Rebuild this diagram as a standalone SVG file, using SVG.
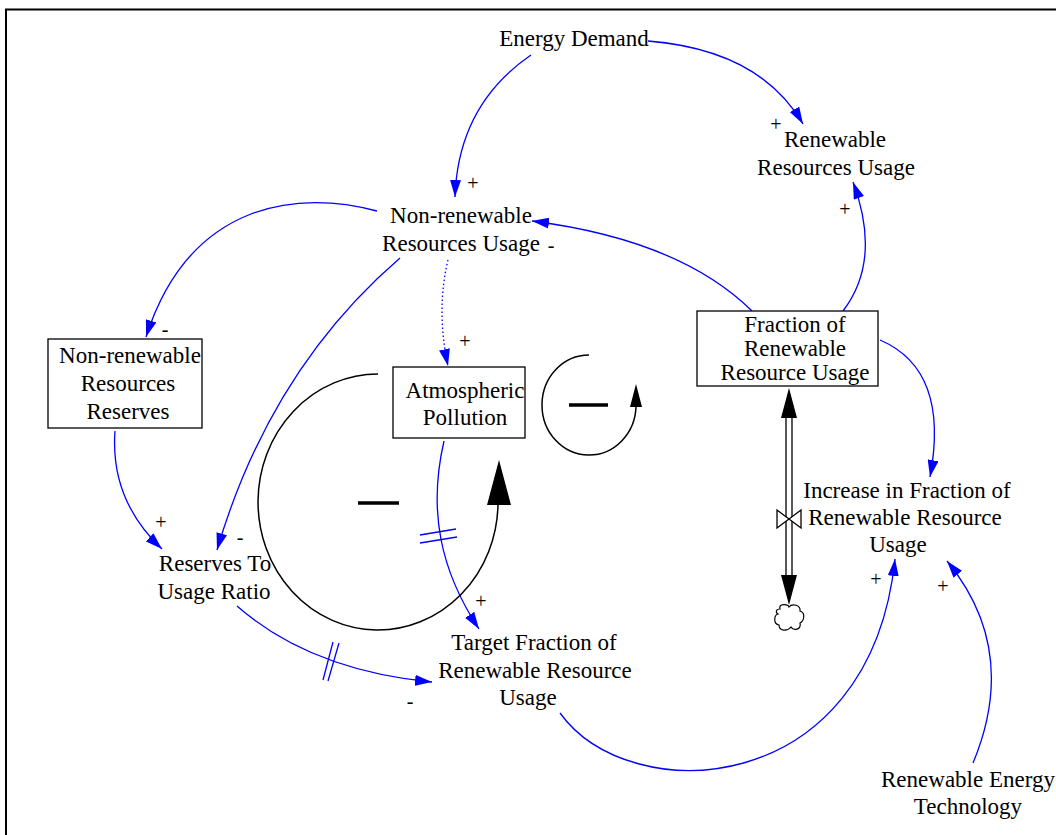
<svg xmlns="http://www.w3.org/2000/svg" width="1056" height="835" viewBox="0 0 1056 835">
<style>
text{font-family:"Liberation Serif","Times New Roman",serif;font-size:23px;fill:#000;text-anchor:middle}
.pol{font-size:20px}
.box{fill:#fff;stroke:#000;stroke-width:1.3}
.link{fill:none;stroke:#0000ff;stroke-width:1.3;marker-end:url(#ab)}
.dot{stroke-dasharray:1.5 2.5}
.delay{stroke:#0000ff;stroke-width:1.3;fill:none}
.loop{fill:none;stroke:#000;stroke-width:1.5}
.minus{stroke:#000;stroke-width:3.5}
</style>
<defs>
<marker id="ab" markerUnits="userSpaceOnUse" markerWidth="17" markerHeight="11" refX="17" refY="5.5" orient="auto">
<path d="M0,0 L17,5.5 L0,11 z" fill="#0000ff"/>
</marker>
</defs>
<rect width="1056" height="835" fill="#fff"/>
<g id="frame" stroke="#000" stroke-width="2" fill="none">
<path d="M6,835 L6,9.5 L1056,9.5"/>
</g>

<g id="connectors">
<path class="link" d="M531,55 Q458,105 455,197"/>
<path class="link" d="M648,41 Q760,50 803,124"/>
<path class="link" d="M843,311 Q882,260 853,182"/>
<path class="link" d="M752,311 Q680,240 532,221"/>
<path class="link" d="M377,211 C300,190 190,200 146,337"/>
<path class="link" d="M400,258 Q270,370 217,550"/>
<path class="link dot" d="M448,260 Q436,310 448,366"/>
<path class="link" d="M115,431 Q110,500 162,549"/>
<path class="link" d="M237,606 Q310,670 432,682"/>
<path class="delay" d="M323,680 L333,642 M328,681 L339,643"/>
<path class="link" d="M444,441 C428,510 440,570 479,629"/>
<path class="delay" d="M420,535 L456,529 M420,543 L457,537"/>
<path class="link" d="M560,713 C630,810 870,800 895,559"/>
<path class="link" d="M973,763 Q1020,650 947,561"/>
<path class="link" d="M880,340 Q950,370 930,477"/>
</g>

<g id="flow">
<path d="M786,418 L786,575 M792,418 L792,575" stroke="#000" stroke-width="1.3" fill="none"/>
<polygon points="789,388 781,418 797,418" fill="#000"/>
<polygon points="789,605 781,575 797,575" fill="#000"/>
<path d="M777,510 L777,528 L801,510 L801,528 Z" fill="#fff" stroke="#000" stroke-width="1.3"/>
<path d="M780,609 C778,603 788,604 789,607 C792,603 801,605 800,611 C806,613 804,621 800,623 C802,630 793,631 791,627 C787,632 779,631 779,625 C773,624 774,615 778,614 C775,612 776,609 780,609 Z" fill="#fff" stroke="#000" stroke-width="1.2"/>
</g>

<g id="loop-big">
<path class="loop" d="M378,374 A120,128 0 1,0 498,505"/>
<polygon points="499,460 487,505 511,505" fill="#000"/>
<line class="minus" x1="358" y1="503" x2="399" y2="503"/>
</g>
<g id="loop-small">
<path class="loop" d="M589,355 A47,50 0 1,0 636,406"/>
<polygon points="636,384 630,407 642,407" fill="#000"/>
<line class="minus" x1="569" y1="405" x2="608" y2="405"/>
</g>

<g id="energy-demand"><text x="574" y="46">Energy Demand</text></g>
<g id="renewable-usage"><text x="835" y="147">Renewable</text><text x="836" y="175">Resources Usage</text></g>
<g id="nonrenewable-usage"><text x="461" y="223">Non-renewable</text><text x="461" y="251">Resources Usage</text></g>
<g id="nonrenewable-reserves">
<rect class="box" x="48" y="339" width="154" height="89"/>
<text x="130" y="363">Non-renewable</text><text x="128" y="391">Resources</text><text x="128" y="419">Reserves</text>
</g>
<g id="atmospheric-pollution">
<rect class="box" x="393" y="367" width="132" height="71"/>
<text x="465" y="398">Atmospheric</text><text x="465" y="425">Pollution</text>
</g>
<g id="fraction-renewable">
<rect class="box" x="697" y="311" width="181" height="75"/>
<text x="795" y="332">Fraction of</text><text x="795" y="356">Renewable</text><text x="795" y="380">Resource Usage</text>
</g>
<g id="reserves-ratio"><text x="215" y="571">Reserves To</text><text x="214" y="599">Usage Ratio</text></g>
<g id="target-fraction"><text x="534" y="650">Target Fraction of</text><text x="535" y="678">Renewable Resource</text><text x="528" y="705">Usage</text></g>
<g id="increase-fraction"><text x="907" y="498">Increase in Fraction of</text><text x="905" y="525">Renewable Resource</text><text x="898" y="552">Usage</text></g>
<g id="renewable-tech"><text x="968" y="787">Renewable Energy</text><text x="968" y="814">Technology</text></g>

<g id="polarities">
<text class="pol" x="473" y="190">+</text>
<text class="pol" x="776" y="131">+</text>
<text class="pol" x="845" y="216">+</text>
<text class="pol" x="551" y="252">-</text>
<text class="pol" x="165" y="336">-</text>
<text class="pol" x="465" y="348">+</text>
<text class="pol" x="161" y="529">+</text>
<text class="pol" x="240" y="544">-</text>
<text class="pol" x="481" y="608">+</text>
<text class="pol" x="410" y="708">-</text>
<text class="pol" x="876" y="586">+</text>
<text class="pol" x="943" y="593">+</text>
</g>
</svg>
